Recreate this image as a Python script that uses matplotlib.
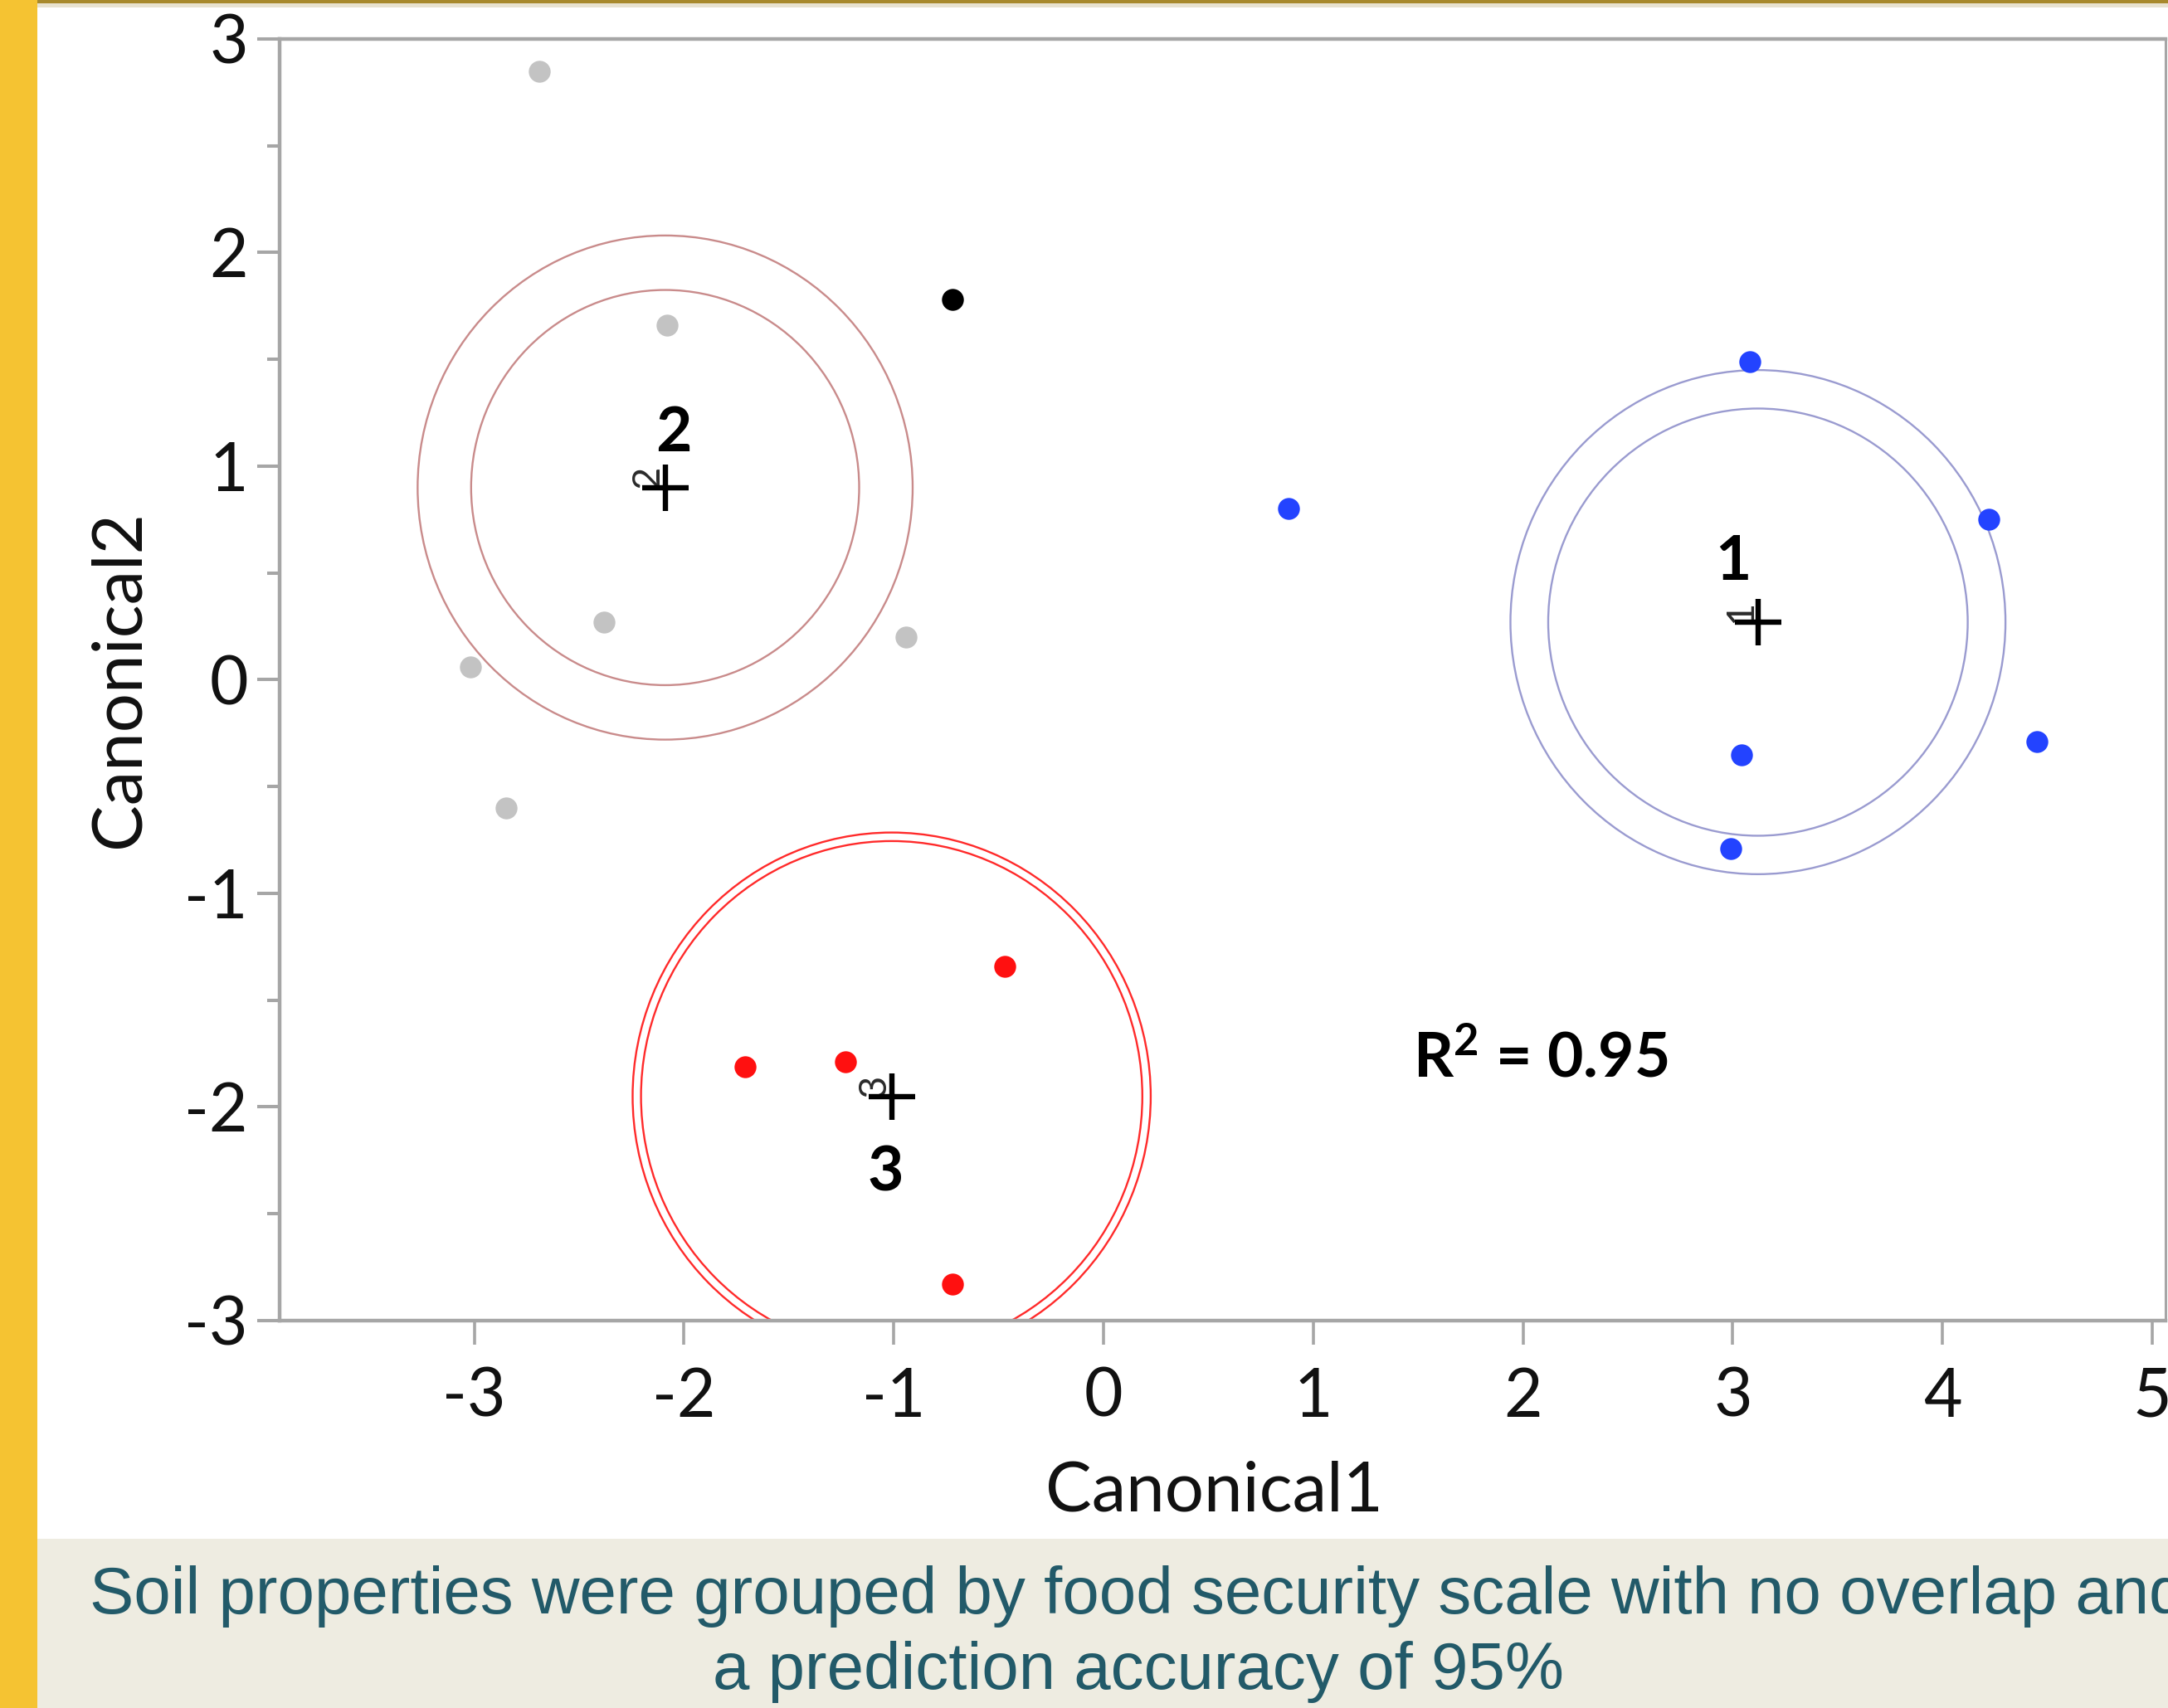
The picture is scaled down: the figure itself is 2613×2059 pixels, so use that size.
import matplotlib
matplotlib.use("Agg")
import matplotlib.pyplot as plt
from matplotlib.patches import Circle, Rectangle
from matplotlib import font_manager as fm

# ---------------- data ----------------
g1_x = [3.08, 0.88, 4.22, 3.04, 4.45, 2.99]
g1_y = [1.49, 0.80, 0.75, -0.35, -0.29, -0.79]
g2_x = [-2.69, -2.08, -2.38, -3.02, -0.94, -2.85]
g2_y = [2.85, 1.66, 0.27, 0.06, 0.20, -0.60]
g3_x = [-0.47, -1.71, -1.23, -0.72]
g3_y = [-1.34, -1.81, -1.79, -2.83]
other_x = [-0.72]
other_y = [1.78]

group_names = ["1", "2", "3"]
centroid_x = [3.12, -2.09, -1.01]
centroid_y = [0.27, 0.90, -1.95]
inner_r = [1.00, 0.925, 1.195]
outer_r = [1.18, 1.18, 1.235]
label_x = [3.00, -2.05, -1.04]
label_y = [0.55, 1.155, -2.31]

x_ticks = [-3, -2, -1, 0, 1, 2, 3, 4, 5]
y_ticks = [-3, -2, -1, 0, 1, 2, 3]
y_minor = [-2.5, -1.5, -0.5, 0.5, 1.5, 2.5]
r2_text = r"$\mathbf{R^{2}}$ = 0.95"
caption_1 = "Soil properties were grouped by food security scale with no overlap and"
caption_2 = "a prediction accuracy of 95%"

# ---------------- style ----------------
names = {f.name for f in fm.fontManager.ttflist}
def pick(*cands):
    for c in cands:
        if c in names:
            return c
    return "DejaVu Sans"
F_UI = pick("Lato", "Open Sans", "DejaVu Sans")
F_CAP = pick("Liberation Sans", "DejaVu Sans")
F_BOLD = pick("Lato", "Open Sans", "DejaVu Sans")
plt.rcParams["axes.unicode_minus"] = False
plt.rcParams["mathtext.fontset"] = "custom"
plt.rcParams["mathtext.rm"] = F_BOLD
plt.rcParams["mathtext.bf"] = F_BOLD + ":bold"

W, H = 2613, 2059
fig = plt.figure(figsize=(W / 100, H / 100), dpi=100)
fig.patch.set_facecolor("white")

# decorations: yellow band, top gold line, caption band
fig.add_artist(Rectangle((0, 0), 45 / W, 1, transform=fig.transFigure,
                         facecolor="#F5C332", edgecolor="none", zorder=0))
fig.add_artist(Rectangle((45 / W, 1 - 4 / H), 1, 4 / H, transform=fig.transFigure,
                         facecolor="#A8892C", edgecolor="none", zorder=0))
fig.add_artist(Rectangle((45 / W, 1 - 9 / H), 1, 5 / H, transform=fig.transFigure,
                         facecolor="#E8E2CF", edgecolor="none", zorder=0))
fig.add_artist(Rectangle((45 / W, 0), 1, (H - 1855) / H, transform=fig.transFigure,
                         facecolor="#EEECE1", edgecolor="none", zorder=0))

ax = fig.add_axes([337 / W, 1 - 1592 / H, (2610 - 337) / W, (1592 - 47) / H])
ax.set_xlim(-3.928, 5.063)
ax.set_ylim(-3, 3)

spine_c = "#A6A6A6"
for s in ["left", "bottom", "top"]:
    ax.spines[s].set_color(spine_c)
    ax.spines[s].set_linewidth(3.2)
ax.spines["right"].set_color(spine_c)
ax.spines["right"].set_linewidth(2.2)

ax.set_xticks(x_ticks)
ax.set_xticklabels([str(v) for v in x_ticks])
ax.set_yticks(y_ticks)
ax.set_yticklabels([str(v) for v in y_ticks])
ax.set_yticks(y_minor, minor=True)
ax.tick_params(axis="x", which="major", length=21, width=2.6, color=spine_c,
               pad=19, labelsize=58, labelcolor="#111111")
ax.tick_params(axis="y", which="major", length=19.5, width=2.9, color=spine_c,
               pad=8, labelsize=58, labelcolor="#111111")
ax.tick_params(axis="y", which="minor", length=10.5, width=2.9, color=spine_c)
for lab in ax.get_xticklabels() + ax.get_yticklabels():
    lab.set_fontfamily(F_UI)

# circles
circle_colors = ["#9A9BD0", "#C98B8B", "#FF2A2A"]
for cx, cy, ri, ro, col in zip(centroid_x, centroid_y, inner_r, outer_r, circle_colors):
    for r in (ri, ro):
        ax.add_patch(Circle((cx, cy), r, fill=False, edgecolor=col, linewidth=1.7, zorder=1))

# points
ax.plot(g2_x, g2_y, "o", color="#C3C3C3", markersize=19, markeredgewidth=0, zorder=3, clip_on=False)
ax.plot(g1_x, g1_y, "o", color="#2343FF", markersize=19, markeredgewidth=0, zorder=3)
ax.plot(g3_x, g3_y, "o", color="#FF1010", markersize=19, markeredgewidth=0, zorder=3)
ax.plot(other_x, other_y, "o", color="#000000", markersize=19, markeredgewidth=0, zorder=3)

# centroids with small rotated group labels
for name, cx, cy in zip(group_names, centroid_x, centroid_y):
    ax.annotate(name, (cx, cy), xytext=(-21, 13), textcoords="offset pixels",
                rotation=90, ha="center", va="center", fontsize=34,
                family=F_UI, color="#2A2A2A", zorder=4)
    ax.plot([cx], [cy], "+", color="black", markersize=41, markeredgewidth=4.6, zorder=5)

# big bold group labels
for name, lx, ly in zip(group_names, label_x, label_y):
    ax.text(lx, ly, name, ha="center", va="center", fontsize=54,
            fontweight="bold", family=F_BOLD, color="black", zorder=6)

# R^2
ax.text((1703 - 337) / (2610 - 337), 1 - (1277 - 47) / (1592 - 47),
        r2_text, transform=ax.transAxes, ha="left", va="center",
        fontsize=54, fontweight="bold", family=F_BOLD, color="black", zorder=6)

# axis labels
fig.text(1463 / W, 1 - 1822 / H, "Canonical1", ha="center", va="baseline",
         fontsize=60, family=F_UI, color="#111111")
fig.text(167 / W, 1 - 819 / H, "Canonical2", ha="center", va="baseline",
         rotation=90, rotation_mode="anchor",
         fontsize=60, family=F_UI, color="#111111")

# caption (first line runs past the right edge, as in the source slide)
fig.text(108 / W, 1 - 1945 / H, caption_1, ha="left", va="baseline",
         fontsize=57.5, family=F_CAP, color="#225A69")
fig.text(1372 / W, 1 - 2036 / H, caption_2, ha="center", va="baseline",
         fontsize=57.5, family=F_CAP, color="#225A69")

fig.savefig("out.png", dpi=100)
